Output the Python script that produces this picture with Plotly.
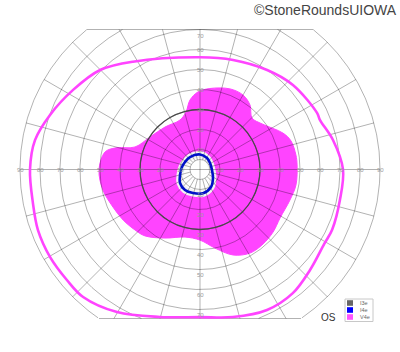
import numpy as np
import plotly.graph_objects as go

# ---------------- data (degrees of visual field) ----------------
ring_radii = [5, 10, 20, 30, 40, 50, 60, 70, 80, 90]
meridian_angles = list(range(0, 360, 15))
top_limit = 70
bottom_limit = -74.5
h_axis_labels = [10, 20, 30, 40, 50, 60, 70, 80, 90]
v_axis_labels = [10, 20, 30, 40, 50, 60, 70]

# V4e outer isopter (theta deg, eccentricity deg)
v4e_theta = [0, 12.5, 22.4, 25.8, 42.3, 56.0, 73.2, 90, 121.9, 135.1, 147.9, 160.0,
             169.9, 180, 191.3, 200.5, 210.3, 219.7, 227.5, 239.8, 254.8, 270, 282.6,
             295.5, 306.9, 317.6, 329.1, 335.5, 347.7]
v4e_r = [71.5, 68.1, 64.9, 65.0, 62.8, 60.0, 57.2, 56.1, 63.5, 70.5, 74.9, 79.8,
         83.8, 85.0, 85.2, 86.5, 86.8, 86.5, 86.5, 82.5, 76.4, 73.8, 75.6,
         77.8, 77.3, 74.5, 72.4, 72.6, 71.6]

# V4e shaded zone boundary
zone_theta = [2.7, 8.6, 17.4, 23.7, 36.3, 44.7, 52.2, 60.0, 69.6, 83.0, 91.5, 98.2,
              103.7, 112.0, 129.5, 146.9, 160.9, 165.8, 169.6, 180.3, 191.9, 203.3,
              213.3, 222.9, 230.4, 242.9, 257.5, 270, 280.8, 291.1, 300.9, 310.2,
              319.4, 328.8, 341.3, 350.8]
zone_r = [48.6, 48.5, 47.7, 45.3, 38.5, 36.6, 40.8, 43.0, 43.0, 40.8, 38.8, 35.1,
          29.6, 26.7, 27.5, 29.8, 34.4, 43.8, 48.3, 50.5, 49.6, 47.4,
          46.0, 44.4, 43.1, 38.5, 34.6, 35.3, 40.0, 45.8, 48.7, 48.8,
          48.1, 46.8, 47.5, 48.6]

# I4e isopter
i4e_theta = [357.6, 33.0, 58.7, 90, 128.7, 153.4, 172.1, 195.4, 214.0, 233.8,
             253.4, 277.3, 302.1, 326.8]
i4e_r = [6.0, 5.96, 6.73, 7.5, 8.0, 8.39, 9.09, 10.37, 12.06, 12.7,
         12.3, 12.0, 10.34, 7.77]

# I3e isopter
i3e_theta = [0, 15, 30, 45, 60, 75, 90, 105, 120, 135, 150, 165,
             180, 195, 210, 225, 240, 255, 270, 285, 300, 315, 330, 345]
i3e_r = [30, 30, 30, 30, 30, 30, 30, 30, 30, 30, 30, 30,
         30, 30, 30, 30, 30, 30, 30, 30, 30, 30, 30, 30]

legend_names = ["I3e", "I4e", "V4e"]
legend_colors = ["#666666", "#0000ff", "#ff55ff"]

MAGENTA = "#ff44ff"
BLUE = "#0010c8"
GRID = "rgba(0,0,0,0.3)"


def to_xy(theta, r, close=True):
    t = np.radians(np.asarray(theta, dtype=float))
    r = np.asarray(r, dtype=float)
    x = r * np.cos(t)
    y = r * np.sin(t)
    if close:
        x = np.append(x, x[0])
        y = np.append(y, y[0])
    return x, y


fig = go.Figure()

# shaded V4e zone
zx, zy = to_xy(zone_theta, zone_r)
fig.add_trace(go.Scatter(x=zx, y=zy, mode="lines", fill="toself", fillcolor=MAGENTA,
                         line=dict(color=MAGENTA, width=1, shape="spline"),
                         hoverinfo="skip", showlegend=False))

# white interior / halo of I4e
bx, by = to_xy(i4e_theta, i4e_r)
fig.add_trace(go.Scatter(x=bx, y=by, mode="lines", fill="toself", fillcolor="white",
                         line=dict(color="#f4f4f4", width=7, shape="spline"),
                         hoverinfo="skip", showlegend=False))

# ---------------- grid ----------------
gx, gy = [], []
phi = np.radians(np.arange(0, 360.5, 0.5))
for rr in ring_radii:
    xs = rr * np.cos(phi)
    ys = rr * np.sin(phi)
    for X, Y in zip(xs, ys):
        if Y > top_limit + 1e-6 or Y < bottom_limit - 1e-6:
            gx.append(None); gy.append(None)
        else:
            gx.append(X); gy.append(Y)
    gx.append(None); gy.append(None)
# clip boundary lines
outer = max(ring_radii)
for lim in (top_limit, bottom_limit):
    half = np.sqrt(outer ** 2 - lim ** 2)
    gx += [-half, half, None]; gy += [lim, lim, None]
for a in meridian_angles:
    t = np.radians(a)
    r0 = 0 if a % 90 == 0 else 5
    r1 = outer
    s = np.sin(t)
    if s > 1e-9:
        r1 = min(r1, top_limit / s)
    elif s < -1e-9:
        r1 = min(r1, bottom_limit / s)
    gx += [r0 * np.cos(t), r1 * np.cos(t), None]
    gy += [r0 * s, r1 * s, None]
fig.add_trace(go.Scatter(x=gx, y=gy, mode="lines", line=dict(color=GRID, width=1),
                         hoverinfo="skip", showlegend=False))

# I3e isopter
cx, cy = to_xy(i3e_theta, i3e_r)
fig.add_trace(go.Scatter(x=cx, y=cy, mode="lines", name="I3e",
                         line=dict(color="#4a4a4a", width=1.3, shape="spline"),
                         showlegend=False))

# V4e outer isopter
vx, vy = to_xy(v4e_theta, v4e_r)
fig.add_trace(go.Scatter(x=vx, y=vy, mode="lines", name="V4e",
                         line=dict(color=MAGENTA, width=2.6, shape="spline"),
                         showlegend=False))

# I4e isopter
fig.add_trace(go.Scatter(x=bx, y=by, mode="lines", name="I4e",
                         line=dict(color=BLUE, width=2.6, shape="spline"),
                         showlegend=False))

# ---------------- axis labels ----------------
ann = []
lab_font = dict(size=6, color="#9a9a9a", family="Liberation Sans, Arial, sans-serif")
for v in h_axis_labels:
    for sgn in (-1, 1):
        ann.append(dict(x=sgn * v, y=0, text=str(v), showarrow=False, font=lab_font,
                        xanchor="center", yanchor="middle"))
for v in v_axis_labels:
    yt = min(v, top_limit - 3)
    ann.append(dict(x=0, y=yt, text=str(v), showarrow=False, font=lab_font,
                    xanchor="center", yanchor="middle"))
    ann.append(dict(x=0, y=-v - 2.5, text=str(v), showarrow=False, font=lab_font,
                    xanchor="center", yanchor="middle"))

# title / eye label
ann.append(dict(xref="paper", yref="paper", x=0.997, y=1.0, text="©StoneRoundsUIOWA",
                showarrow=False, xanchor="right", yanchor="top",
                font=dict(size=14, color="#444444", family="Liberation Sans, Arial, sans-serif")))
ann.append(dict(xref="paper", yref="paper", x=328 / 400, y=1 - 317 / 352, text="OS",
                showarrow=False, xanchor="center", yanchor="middle",
                font=dict(size=10, color="#333333", family="Liberation Sans, Arial, sans-serif")))

# ---------------- custom legend ----------------
shapes = []
W, H = 400.0, 352.0


def px(xp):
    return xp / W


def py(yp):
    return 1 - yp / H


shapes.append(dict(type="rect", xref="paper", yref="paper", x0=px(345), x1=px(373),
                   y0=py(321.5), y1=py(299), line=dict(color="#c8c8c8", width=1),
                   fillcolor="white", layer="above"))
row_y = [303, 310, 317]
for name, col, ry in zip(legend_names, legend_colors, row_y):
    shapes.append(dict(type="rect", xref="paper", yref="paper", x0=px(347), x1=px(353),
                       y0=py(ry + 2.8), y1=py(ry - 2.8), line=dict(width=0),
                       fillcolor=col, layer="above"))
    ann.append(dict(xref="paper", yref="paper", x=px(358), y=py(ry), text=name,
                    showarrow=False, xanchor="left", yanchor="middle",
                    font=dict(size=5.5, color="#666666",
                              family="Liberation Sans, Arial, sans-serif")))

fig.update_layout(
    width=400, height=352, autosize=False,
    margin=dict(l=0, r=0, t=0, b=0, pad=0),
    paper_bgcolor="white", plot_bgcolor="white",
    xaxis=dict(range=[-100, 100], visible=False, fixedrange=True),
    yaxis=dict(range=[-91.25, 84.75], visible=False, fixedrange=True),
    annotations=ann, shapes=shapes, showlegend=False,
)

fig.write_html("out.html")
